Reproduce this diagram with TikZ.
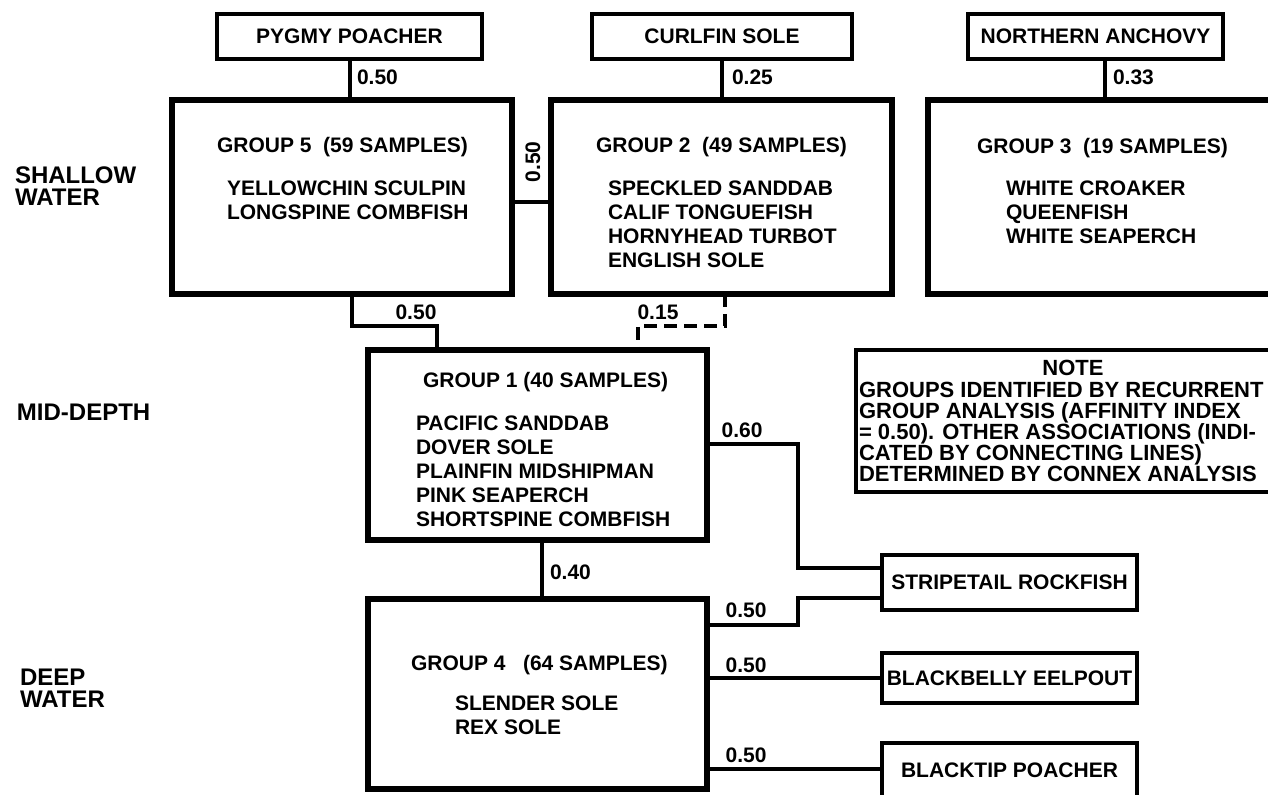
\documentclass[tikz,border=0pt]{standalone}
\usepackage{fontspec}
\setmainfont{Liberation Sans}
\begin{document}
\begin{tikzpicture}[x=0.5pt,y=-0.5pt,
  every node/.style={inner sep=0pt, outer sep=0pt},
  txt/.style={font=\bfseries\fontsize{10.5}{12}\selectfont, align=left, anchor=north west},
  grp/.style={draw, line width=3pt, rectangle},
  spbox/.style={draw, line width=1.6pt, rectangle, font=\bfseries\fontsize{10.5}{12}\selectfont},
  notebox/.style={draw, line width=1.8pt, rectangle},
  notetxt/.style={font=\bfseries\fontsize{11}{10.5}\selectfont, align=left},
  conn/.style={line width=2pt},
  dconn/.style={line width=2pt, dash pattern=on 6.5pt off 3.5pt},
  val/.style={font=\bfseries\fontsize{10.5}{12}\selectfont},
  side/.style={font=\bfseries\fontsize{12}{11}\selectfont, align=left, anchor=north west},
]
\useasboundingbox (0,0) rectangle (1268,795);
\clip (0,0) rectangle (1268,795);

% side labels
\node[side] (shallow) at (15,166.5) {SHALLOW\\WATER};
\node[side] (mid) at (17,403.5) {MID-DEPTH};
\node[side] (deep) at (20,668.5) {DEEP\\WATER};

% top species boxes
\node[spbox, minimum width=132.5pt, minimum height=22.5pt] (pp) at (349.5,36.5) {PYGMY POACHER};
\node[spbox, minimum width=130pt, minimum height=22.5pt] (cs) at (722,36.5) {CURLFIN SOLE};
\node[spbox, minimum width=127.5pt, minimum height=22.5pt] (na) at (1095.5,36.5) {NORTHERN ANCHOVY};

% group boxes
\node[grp, minimum width=170pt, minimum height=97pt] (g5) at (342,197) {};
\node[grp, minimum width=170.5pt, minimum height=97pt] (g2) at (721.5,197) {};
\node[grp, minimum width=186pt, minimum height=97pt] (g3) at (1114,197) {};
\node[grp, minimum width=169.5pt, minimum height=95pt] (g1) at (537.5,445) {};
\node[grp, minimum width=169.5pt, minimum height=95pt] (g4) at (537.5,694) {};

% group texts
\node[txt] (g5h) at (217,137.5) {GROUP 5\ \ (59 SAMPLES)};
\node[txt] (g5l) at (227,180.5) {YELLOWCHIN SCULPIN\\LONGSPINE COMBFISH};
\node[txt] (g2h) at (596,137.5) {GROUP 2\ \ (49 SAMPLES)};
\node[txt] (g2l) at (608,180.5) {SPECKLED SANDDAB\\CALIF TONGUEFISH\\HORNYHEAD TURBOT\\ENGLISH SOLE};
\node[txt] (g3h) at (977,138.5) {GROUP 3\ \ (19 SAMPLES)};
\node[txt] (g3l) at (1006,180.5) {WHITE CROAKER\\QUEENFISH\\WHITE SEAPERCH};
\node[txt] (g1h) at (423,372.5) {GROUP 1\ (40 SAMPLES)};
\node[txt] (g1l) at (416,415.5) {PACIFIC SANDDAB\\DOVER SOLE\\PLAINFIN MIDSHIPMAN\\PINK SEAPERCH\\SHORTSPINE COMBFISH};
\node[txt] (g4h) at (411,655.5) {GROUP 4\ \ \ (64 SAMPLES)};
\node[txt] (g4l) at (455,695.5) {SLENDER SOLE\\REX SOLE};

% note
\node[notebox, minimum width=222pt, minimum height=71pt] (note) at (1078,421) {};
\node[notetxt] (noteh) at (1073,368) {NOTE};
\node[notetxt, anchor=north west] (notet) at (859,382) {GROUPS IDENTIFIED BY RECURRENT\\GROUP ANALYSIS (AFFINITY INDEX\\= 0.50). OTHER ASSOCIATIONS (INDI-\\CATED BY CONNECTING LINES)\\DETERMINED BY CONNEX ANALYSIS};

% right species boxes
\node[spbox, minimum width=127.5pt, minimum height=27.5pt] (st) at (1009.5,582.5) {STRIPETAIL ROCKFISH};
\node[spbox, minimum width=127.5pt, minimum height=25pt] (bb) at (1009.5,678) {BLACKBELLY EELPOUT};
\node[spbox, minimum width=127.5pt, minimum height=27pt] (bt) at (1009.5,770) {BLACKTIP POACHER};

% connectors
\draw[conn] (pp.south) -- (pp.south |- g5.north);
\draw[conn] (cs.south) -- (cs.south |- g2.north);
\draw[conn] (na.south -| 1105,0) -- (g3.north -| 1105,0);
\draw[conn] (g5.east |- 0,202) -- (g2.west |- 0,202);
\draw[conn] (g5.south -| 352,0) -- ++(0,32) -| (g1.north -| 437,0);
\draw[dconn] (g2.south -| 725,0) -- ++(0,32) -| (g1.north -| 638,0);
\draw[conn] (g1.east |- 0,444) -- ++(91,0) |- (st.west |- 0,568);
\draw[conn] (g1.south -| 542,0) -- (g4.north -| 542,0);
\draw[conn] (g4.east |- 0,625) -- ++(91,0) |- (st.west |- 0,598);
\draw[conn] (g4.east |- bb.west) -- (bb.west);
\draw[conn] (g4.east |- 0,769) -- (bt.west |- 0,769);

% values
\node[val, anchor=west] (v1) at (357,77) {0.50};
\node[val, anchor=west] (v2) at (732,77) {0.25};
\node[val, anchor=west] (v3) at (1113,77) {0.33};
\node[val, rotate=90] (v4) at (533,162) {0.50};
\node[val] (v5) at (416,312) {0.50};
\node[val] (v6) at (658,312) {0.15};
\node[val] (v7) at (742,430) {0.60};
\node[val, anchor=west] (v8) at (550,572) {0.40};
\node[val] (v9) at (746,610) {0.50};
\node[val] (v10) at (746,665) {0.50};
\node[val] (v11) at (746,755) {0.50};
\end{tikzpicture}
\end{document}
